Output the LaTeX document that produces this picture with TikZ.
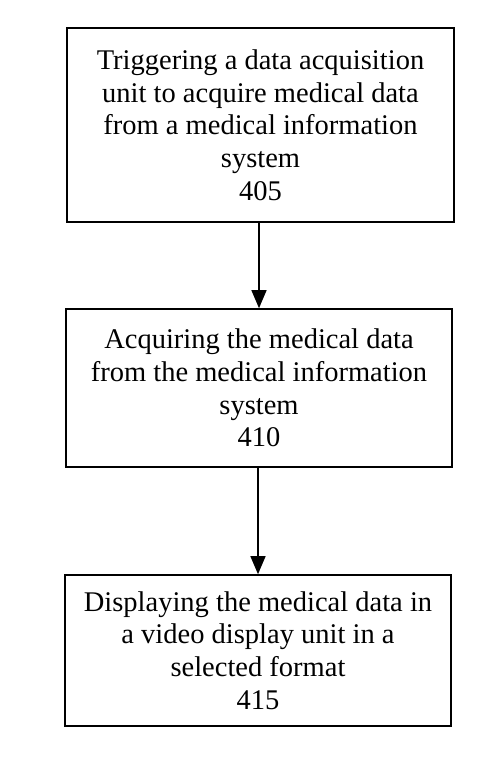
\documentclass[tikz,border=0pt]{standalone}
\usepackage{fontspec}
\setmainfont{Liberation Serif}
\usetikzlibrary{arrows.meta}
\tikzset{
  stepbox/.style={draw=black, line width=1.6pt, align=center, inner sep=0pt,
    font=\fontsize{28.5pt}{32.7pt}\selectfont},
  flow/.style={line width=1.3pt, -{Triangle[width=15pt,length=18pt]}}
}
\begin{document}
\begin{tikzpicture}[x=1pt,y=-1pt]
\useasboundingbox (0,0) rectangle (500,765);
\node[stepbox, minimum width=387pt, minimum height=194pt] (a) at (260.5,125)
  {Triggering a data acquisition\\unit to acquire medical data\\from a medical information\\system\\405};
\node[stepbox, minimum width=386pt, minimum height=158pt] (b) at (259,388)
  {Acquiring the medical data\\from the medical information\\system\\410};
\node[stepbox, minimum width=386pt, minimum height=151pt] (c) at (258,650.5)
  {Displaying the medical data in\\a video display unit in a\\selected format\\415};
\draw[flow] (a.south -| 259,0) -- (b.north -| 259,0);
\draw[flow] (b.south -| 258,0) -- (c.north -| 258,0);
\end{tikzpicture}
\end{document}
